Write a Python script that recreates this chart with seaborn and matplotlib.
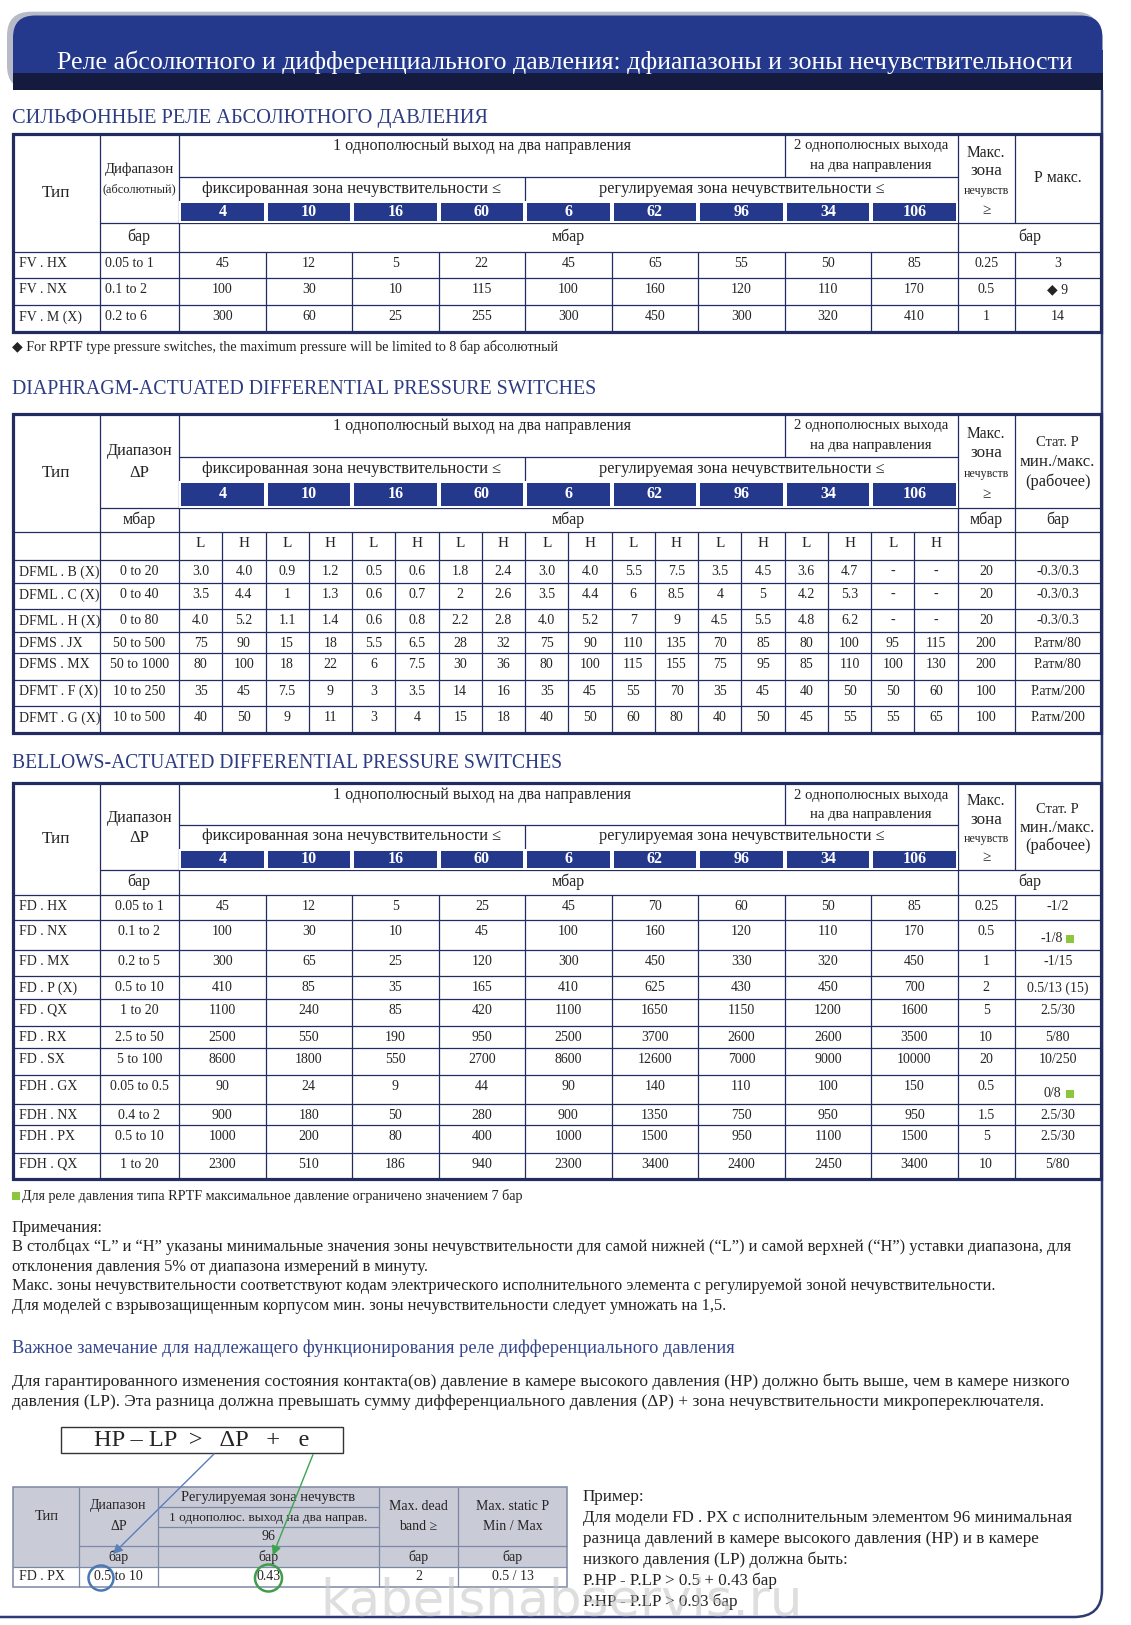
import numpy as np
import matplotlib
matplotlib.use("Agg")
import matplotlib.pyplot as plt
import seaborn as sns
from matplotlib.colors import ListedColormap
from matplotlib.patches import Rectangle, FancyBboxPatch, Circle, PathPatch
from matplotlib.path import Path

# ---------------- data ----------------
title = "Реле абсолютного и дифференциального давления: дфиапазоны и зоны нечувствительности"
sections = ["СИЛЬФОННЫЕ РЕЛЕ АБСОЛЮТНОГО ДАВЛЕНИЯ",
            "DIAPHRAGM-ACTUATED DIFFERENTIAL PRESSURE SWITCHES",
            "BELLOWS-ACTUATED DIFFERENTIAL PRESSURE SWITCHES"]
band_values = [4, 10, 16, 60, 6, 62, 96, 34, 106]

# bellows, absolute pressure
fv_types = ["FV . HX", "FV . NX", "FV . M (X)"]
fv_ranges = ["0.05 to 1", "0.1 to 2", "0.2 to 6"]
fv_values = [[45, 12, 5, 22, 45, 65, 55, 50, 85],
             [100, 30, 10, 115, 100, 160, 120, 110, 170],
             [300, 60, 25, 255, 300, 450, 300, 320, 410]]
fv_deadband = ["0.25", "0.5", "1"]
fv_pmax = ["3", "◆ 9", "14"]

# diaphragm, differential (L / H pairs)
dfm_types = ["DFML . B (X)", "DFML . C (X)", "DFML . H (X)", "DFMS . JX",
             "DFMS . MX", "DFMT . F (X)", "DFMT . G (X)"]
dfm_ranges = ["0 to 20", "0 to 40", "0 to 80", "50 to 500", "50 to 1000",
              "10 to 250", "10 to 500"]
dfm_values = [
    ["3.0", "4.0", "0.9", "1.2", "0.5", "0.6", "1.8", "2.4", "3.0", "4.0", "5.5", "7.5", "3.5", "4.5", "3.6", "4.7", "-", "-"],
    ["3.5", "4.4", "1", "1.3", "0.6", "0.7", "2", "2.6", "3.5", "4.4", "6", "8.5", "4", "5", "4.2", "5.3", "-", "-"],
    ["4.0", "5.2", "1.1", "1.4", "0.6", "0.8", "2.2", "2.8", "4.0", "5.2", "7", "9", "4.5", "5.5", "4.8", "6.2", "-", "-"],
    ["75", "90", "15", "18", "5.5", "6.5", "28", "32", "75", "90", "110", "135", "70", "85", "80", "100", "95", "115"],
    ["80", "100", "18", "22", "6", "7.5", "30", "36", "80", "100", "115", "155", "75", "95", "85", "110", "100", "130"],
    ["35", "45", "7.5", "9", "3", "3.5", "14", "16", "35", "45", "55", "70", "35", "45", "40", "50", "50", "60"],
    ["40", "50", "9", "11", "3", "4", "15", "18", "40", "50", "60", "80", "40", "50", "45", "55", "55", "65"],
]
dfm_deadband = ["20", "20", "20", "200", "200", "100", "100"]
dfm_static = ["-0.3/0.3", "-0.3/0.3", "-0.3/0.3", "Р.атм/80", "Р.атм/80", "Р.атм/200", "Р.атм/200"]

# bellows, differential
fd_types = ["FD . HX", "FD . NX", "FD . MX", "FD . P (X)", "FD . QX", "FD . RX",
            "FD . SX", "FDH . GX", "FDH . NX", "FDH . PX", "FDH . QX"]
fd_ranges = ["0.05 to 1", "0.1 to 2", "0.2 to 5", "0.5 to 10", "1 to 20", "2.5 to 50",
             "5 to 100", "0.05 to 0.5", "0.4 to 2", "0.5 to 10", "1 to 20"]
fd_values = [[45, 12, 5, 25, 45, 70, 60, 50, 85],
             [100, 30, 10, 45, 100, 160, 120, 110, 170],
             [300, 65, 25, 120, 300, 450, 330, 320, 450],
             [410, 85, 35, 165, 410, 625, 430, 450, 700],
             [1100, 240, 85, 420, 1100, 1650, 1150, 1200, 1600],
             [2500, 550, 190, 950, 2500, 3700, 2600, 2600, 3500],
             [8600, 1800, 550, 2700, 8600, 12600, 7000, 9000, 10000],
             [90, 24, 9, 44, 90, 140, 110, 100, 150],
             [900, 180, 50, 280, 900, 1350, 750, 950, 950],
             [1000, 200, 80, 400, 1000, 1500, 950, 1100, 1500],
             [2300, 510, 186, 940, 2300, 3400, 2400, 2450, 3400]]
fd_deadband = ["0.25", "0.5", "1", "2", "5", "10", "20", "0.5", "1.5", "5", "10"]
fd_static = ["-1/2", "-1/8", "-1/15", "0.5/13 (15)", "2.5/30", "5/80", "10/250",
             "0/8", "2.5/30", "2.5/30", "5/80"]
fd_marked = ["FD . NX", "FDH . GX"]

ex_row = ["FD . PX", "0.5 to 10", "0.43", "2", "0.5 / 13"]
ex_band = "96"

footnote1 = "◆ For RPTF type pressure switches, the maximum pressure will be limited to 8 бар абсолютный"
footnote2 = "Для реле давления типа RPTF максимальное давление ограничено значением 7 бар"
notes = ["Примечания:",
         "В столбцах “L” и “H” указаны минимальные значения зоны нечувствительности для самой нижней (“L”) и самой верхней (“H”) уставки диапазона, для",
         "отклонения давления 5% от диапазона измерений в минуту.",
         "Макс. зоны нечувствительности соответствуют кодам электрического исполнительного элемента с регулируемой зоной нечувствительности.",
         "Для моделей с взрывозащищенным корпусом мин. зоны нечувствительности следует умножать на 1,5."]
important = "Важное замечание для надлежащего функционирования реле дифференциального давления"
para = ["Для гарантированного изменения состояния контакта(ов) давление в камере высокого давления (HP) должно быть выше, чем в камере низкого",
        "давления (LP). Эта разница должна превышать сумму дифференциального давления (ΔP) + зона нечувствительности микропереключателя."]
formula = "HP – LP  >   ΔP   +   e"
example = ["Пример:",
           "Для модели FD . PX с исполнительным элементом 96 минимальная",
           "разница давлений в камере высокого давления (HP) и в камере",
           "низкого давления (LP) должна быть:",
           "P.HP - P.LP > 0.5 + 0.43 бар",
           "P.HP - P.LP > 0.93 бар"]
watermark = "kabelsnabservis.ru"

# ---------------- figure ----------------
sns.set_theme(style="white")
plt.rcParams["font.family"] = ["Liberation Serif", "DejaVu Serif", "DejaVu Sans"]

W, H = 1131, 1625
fig = plt.figure(figsize=(W / 100, H / 100), dpi=100)
ax = fig.add_axes([0, 0, 1, 1])
ax.set_xlim(0, W)
ax.set_ylim(H, 0)
ax.axis("off")
R = fig.canvas.get_renderer()

NAVY = "#222c60"
BLUE = "#24398b"
INK = "#262324"
HEAD = "#2d3c82"
GREEN = "#8cc63f"


def T(x, y, s, size=9.5, ha="center", w=None, color=INK, **kw):
    t = ax.text(x, y, s, fontsize=size, ha=ha, va="center", color=color, zorder=6, **kw)
    if w:
        t.set_fontsize(size * w / t.get_window_extent(R).width)
    return t


def fit_size(s, w, size=11):
    t = ax.text(0, 0, s, fontsize=size)
    f = size * w / t.get_window_extent(R).width
    t.remove()
    return f


def hl(y, x0, x1, lw=0.9, c=NAVY):
    ax.plot([x0, x1], [y, y], color=c, lw=lw, solid_capstyle="butt", zorder=4)


def vl(x, y0, y1, lw=0.9, c=NAVY):
    ax.plot([x, x], [y0, y1], color=c, lw=lw, solid_capstyle="butt", zorder=4)


def mid(a, b):
    return (a + b) / 2


X = [13.4, 99.5] + list(np.linspace(179, 957.7, 10)) + [1014.5, 1101]


def band(y0, y1):
    bax = fig.add_axes([X[2] / W, 1 - y1 / H, (X[11] - X[2]) / W, (y1 - y0) / H])
    sns.heatmap(np.array([band_values]), ax=bax, cmap=ListedColormap([BLUE]), cbar=False,
                annot=True, fmt="d", linewidths=1.6, linecolor="white",
                annot_kws=dict(color="white", size=11.5, weight="bold"),
                xticklabels=False, yticklabels=False)
    bax.axis("off")


def table(top, r1, r2, rb, ru, rows, types, ranges, cells, deadband, last,
          range_hdr, range_unit, right_units, last_hdr, lh=False, range_left=False,
          marked=()):
    bottom = rows[-1]
    ax.add_patch(Rectangle((X[0], top), X[13] - X[0], bottom - top, fill=False,
                           ec=NAVY, lw=2.3, zorder=5))
    hl(r1, X[2], X[11])
    vl(X[9], top, r1)
    vl(X[6], r1, r2)
    hl(rb, X[1], X[13])
    hl(ru, X[0], X[13])
    for x in (X[1], X[2], X[11]):
        vl(x, top, bottom)
    if len(right_units) == 2:
        vl(X[12], top, bottom)
    else:
        vl(X[12], top, rb)
        vl(X[12], ru, bottom)
    for y in rows[:-1]:
        hl(y, X[0], X[13])
    xs = X[2:12]
    cols = xs
    if lh:
        cols = sorted(list(xs) + [mid(a, b) for a, b in zip(xs[:-1], xs[1:])])
    for x in cols[1:-1]:
        vl(x, ru, bottom)
    band(r2, rb)

    span = rb - top
    T(mid(X[0], X[1]), mid(top, ru), "Тип", w=28)
    T(mid(X[1], X[2]), top + 0.40 * span, range_hdr[0][0], w=range_hdr[0][1])
    T(mid(X[1], X[2]), top + 0.63 * span, range_hdr[1][0], size=range_hdr[1][1],
      w=range_hdr[1][2])
    T(mid(X[2], X[9]), top + 12, "1 однополюсный выход на два направления", w=302)
    T(mid(X[9], X[11]), top + 12, "2 однополюсных выхода", w=155)
    T(mid(X[9], X[11]), top + 31.5, "на два направления", w=123)
    T(mid(X[2], X[6]), mid(r1, r2), "фиксированная зона нечувствительности ≤", w=301)
    T(mid(X[6], X[11]), mid(r1, r2), "регулируемая зона нечувствительности ≤", w=286)
    cx = mid(X[11], X[12])
    T(cx, top + 0.21 * span, "Макс.", w=39)
    T(cx, top + 0.42 * span, "зона", w=32)
    T(cx, top + 0.64 * span, "нечувств", w=45)
    T(cx, top + 0.86 * span, "≥", 11)
    cl = mid(X[12], X[13])
    for f, s, w in last_hdr:
        T(cl, top + f * span, s, w=w)

    yu = mid(rb, ru)
    T(mid(X[1], X[2]), yu, range_unit, 11.5)
    T(mid(X[2], X[11]), yu, "мбар", 11.5)
    if len(right_units) == 2:
        T(cx, yu, right_units[0], 11.5)
        T(cl, yu, right_units[1], 11.5)
    else:
        T(mid(X[11], X[13]), yu, right_units[0], 11.5)

    tops = [ru] + rows[:-1]
    if lh:
        for j, (a, b) in enumerate(zip(cols[:-1], cols[1:])):
            T(mid(a, b), ru + 11.8, "LH"[j % 2], 11)
        tops = tops[1:]
    for i, y0 in enumerate(tops):
        yc = y0 + 11.8
        T(19, yc, types[i], 10, ha="left")
        if range_left:
            T(105, yc, ranges[i], 10, ha="left")
        else:
            T(mid(X[1], X[2]), yc, ranges[i], 10)
        for j, v in enumerate(cells[i]):
            T(mid(cols[j], cols[j + 1]), yc, str(v), 10)
        T(cx, yc, deadband[i], 10)
        if types[i] in marked:
            T(1052, y0 + 19, last[i], 10)
            ax.add_patch(Rectangle((1066, y0 + 15), 8, 8, fc=GREEN, ec="none", zorder=6))
        else:
            T(cl, yc, last[i], 10)


# ---------------- page frame / header ----------------
ax.add_patch(FancyBboxPatch((7, 11.7), 1092, 78, boxstyle="round,pad=0,rounding_size=24",
                            fc="#b7bbc7", ec="none", zorder=1))
ax.add_patch(FancyBboxPatch((13, 15.5), 1089.5, 74.5, boxstyle="round,pad=0,rounding_size=22",
                            fc=BLUE, ec="none", zorder=2))
ax.add_patch(Rectangle((13, 50), 1089.5, 40, fc=BLUE, ec="none", zorder=2))
ax.add_patch(Rectangle((13, 72.7), 1089.5, 17.3, fc="#151b3f", ec="none", zorder=2))
T(564.5, 62, title, 20, w=1021, color="white")

frame = Path([(1102, 90), (1102, 1590), (1102, 1617), (1074, 1617), (0, 1617)],
             [Path.MOVETO, Path.LINETO, Path.CURVE3, Path.CURVE3, Path.LINETO])
ax.add_patch(PathPatch(frame, fill=False, ec="#2f3a72", lw=1.8, zorder=3))

# ---------------- tables ----------------
T(12, 118, sections[0], 13, ha="left", w=475, color=HEAD)
table(134, 177, 201, 222.5, 251.5, [278, 305, 331.5], fv_types, fv_ranges, fv_values,
      fv_deadband, fv_pmax,
      [("Дифапазон", 70), ("(абсолютный)", 9, 74)], "бар", ["бар"],
      [(0.5, "Р макс.", 48)], range_left=True)
T(12, 347, footnote1, 9, ha="left", w=546)

T(12, 390, sections[1], 13, ha="left", w=584, color=HEAD)
table(414, 457, 480.5, 507.5, 531.5, [560, 583, 609, 632, 652.5, 679.5, 706, 733],
      dfm_types, dfm_ranges, dfm_values, dfm_deadband, dfm_static,
      [("Диапазон", 66), ("ΔP", 12, None)], "мбар", ["мбар", "бар"],
      [(0.30, "Стат. Р", 43.5), (0.515, "мин./макс.", 74.6), (0.725, "(рабочее)", 66)],
      lh=True)

T(12, 764, sections[2], 13, ha="left", w=551, color=HEAD)
table(783, 824.5, 848.5, 870, 894.5,
      [920, 950, 976, 998.5, 1025.5, 1047.5, 1074.5, 1103.5, 1125, 1152.5, 1178.5],
      fd_types, fd_ranges, fd_values, fd_deadband, fd_static,
      [("Диапазон", 66), ("ΔP", 12, None)], "бар", ["бар"],
      [(0.30, "Стат. Р", 43.5), (0.515, "мин./макс.", 74.6), (0.725, "(рабочее)", 66)],
      marked=fd_marked)

ax.add_patch(Rectangle((12, 1192), 8, 8, fc=GREEN, ec="none", zorder=6))
T(22, 1196, footnote2, 9, ha="left", w=502)

# ---------------- notes ----------------
fs_notes = fit_size(notes[1], 1066)
for s, y in zip(notes, [1228.5, 1247, 1267, 1286.5, 1305.5]):
    T(12, y, s, fs_notes, ha="left")
T(12, 1348, important, 11, ha="left", w=720, color="#34458c")
fs_para = fit_size(para[0], 1063)
T(12, 1382, para[0], fs_para, ha="left")
T(12, 1402.5, para[1], fs_para, ha="left")

# formula box with arrows to the example
ax.add_patch(Rectangle((60.5, 1427), 282.5, 26, fill=False, ec="#333333", lw=1, zorder=5))
T(201.7, 1440, formula, 13, w=214)

# example table
EX = [13.4, 79.2, 158, 378.9, 458, 567]
GRID = "#7d87a6"
ax.add_patch(Rectangle((EX[0], 1486.7), EX[5] - EX[0], 80, fc="#c9ccd7", ec="none", zorder=3))
ax.add_patch(Rectangle((EX[0], 1486.7), EX[5] - EX[0], 100, fill=False, ec=GRID, lw=1.1, zorder=5))
hl(1507.3, EX[2], EX[3], c=GRID)
hl(1527.3, EX[2], EX[3], c=GRID)
hl(1546, EX[1], EX[5], c=GRID)
hl(1566.7, EX[0], EX[5], c=GRID)
for x in EX[1:5]:
    vl(x, 1486.7, 1586.7, c=GRID)
T(mid(EX[0], EX[1]), 1517, "Тип", 10.5)
T(mid(EX[1], EX[2]), 1506, "Диапазон", 10)
T(mid(EX[1], EX[2]), 1527, "ΔP", 10)
T(mid(EX[2], EX[3]), 1497, "Регулируемая зона нечувств", 9, w=176)
T(mid(EX[2], EX[3]), 1517.5, "1 однополюс. выход на два направ.", 9, w=200)
T(mid(EX[2], EX[3]), 1536.5, ex_band, 10)
T(mid(EX[3], EX[4]), 1506, "Max. dead", 10)
T(mid(EX[3], EX[4]), 1527, "band ≥", 10)
T(mid(EX[4], EX[5]), 1506, "Max. static P", 10)
T(mid(EX[4], EX[5]), 1527, "Min / Max", 10)
for a, b in zip(EX[1:-1], EX[2:]):
    T(mid(a, b), 1556.5, "бар", 10)
T(19, 1577, ex_row[0], 10, ha="left")
for j, v in enumerate(ex_row[1:]):
    T(mid(EX[j + 1], EX[j + 2]), 1577, v, 10)

ax.add_patch(Circle((101, 1578), 12.5, fill=False, ec="#4a78b4", lw=1.8, zorder=7))
ax.add_patch(Circle((268.5, 1578), 13.5, fill=False, ec="#3f9d4c", lw=1.8, zorder=7))
ax.annotate("", xy=(111, 1556), xytext=(216, 1452),
            arrowprops=dict(arrowstyle="-|>", color="#5b7fba", lw=1, mutation_scale=14), zorder=7)
ax.annotate("", xy=(271.7, 1558), xytext=(314, 1452),
            arrowprops=dict(arrowstyle="-|>", color="#3ea34f", lw=1, mutation_scale=14), zorder=7)

fs_ex = fit_size(example[1], 491)
for i, s in enumerate(example):
    T(583, 1497 + 21 * i, s, fs_ex, ha="left")

T(562, 1602, watermark, 30, w=482, color="#c4c4c4", family="DejaVu Sans", alpha=0.55)

fig.savefig("out.png", dpi=100)
